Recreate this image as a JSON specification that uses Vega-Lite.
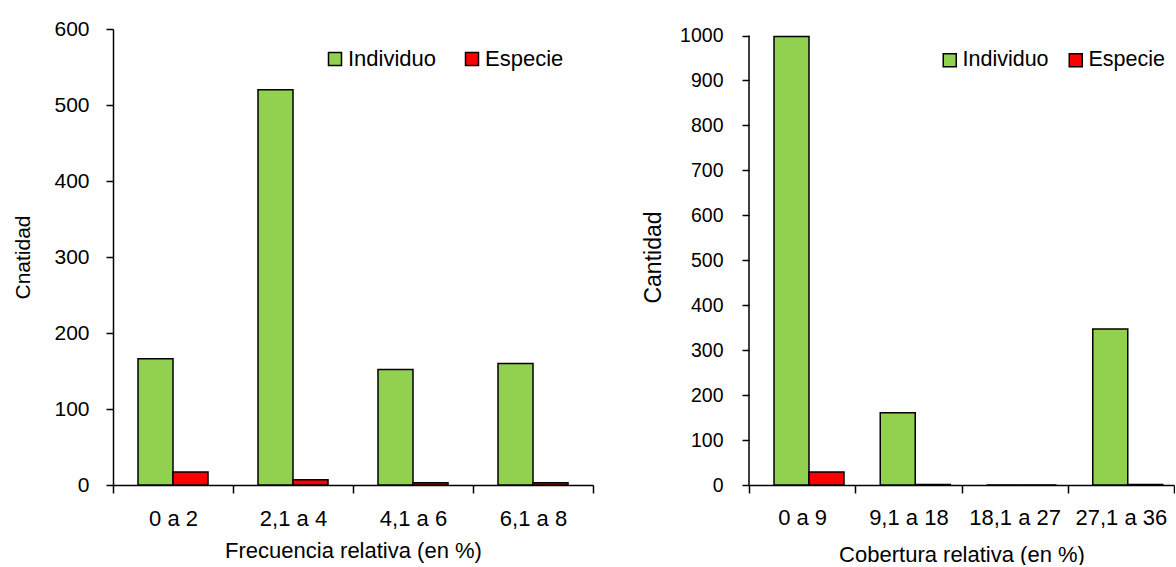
{
  "$schema": "https://vega.github.io/schema/vega-lite/v6.json",
  "background": "white",
  "padding": {"left": 12, "top": 18, "right": 0, "bottom": 0},
  "spacing": 48,
  "config": {
    "font": "Liberation Sans",
    "view": {"stroke": null},
    "axis": {
      "domainColor": "black", "domainWidth": 1.5, "tickColor": "black", "tickWidth": 1.5, "tickSize": 7,
      "labelFont": "Liberation Sans", "labelFontSize": 22, "labelColor": "black",
      "titleFont": "Liberation Sans", "titleFontSize": 22, "titleColor": "black", "titleFontWeight": "normal",
      "grid": false
    },
    "legend": {
      "labelFont": "Liberation Sans", "labelFontSize": 22, "labelColor": "black",
      "symbolType": "square", "symbolSize": 169, "symbolStrokeColor": "black", "symbolStrokeWidth": 1.5,
      "symbolOpacity": 1, "labelOffset": 2
    }
  },
  "resolve": {"scale": {"color": "independent"}, "legend": {"color": "independent"}},
  "hconcat": [
    {
      "width": 480, "height": 456,
      "data": {"values": [
        {"categoria": "0 a 2", "serie": "Individuo", "valor": 166},
        {"categoria": "0 a 2", "serie": "Especie", "valor": 17},
        {"categoria": "2,1 a 4", "serie": "Individuo", "valor": 520},
        {"categoria": "2,1 a 4", "serie": "Especie", "valor": 7},
        {"categoria": "4,1 a 6", "serie": "Individuo", "valor": 152},
        {"categoria": "4,1 a 6", "serie": "Especie", "valor": 3},
        {"categoria": "6,1 a 8", "serie": "Individuo", "valor": 160},
        {"categoria": "6,1 a 8", "serie": "Especie", "valor": 3}
      ]},
      "mark": {"type": "bar", "stroke": "black", "strokeWidth": 1.5},
      "encoding": {
        "x": {"field": "categoria", "type": "nominal", "sort": null,
              "scale": {"paddingInner": 0, "paddingOuter": 0},
              "axis": {"title": "Frecuencia relativa (en %)", "labelAngle": 0, "tickBand": "extent", "tickSize": 8, "labelPadding": 15, "titlePadding": 11}},
        "xOffset": {"field": "serie", "type": "nominal", "sort": ["Individuo", "Especie"],
                    "scale": {"paddingInner": 0, "paddingOuter": 0.714}},
        "y": {"field": "valor", "type": "quantitative", "scale": {"domain": [0, 600]},
              "axis": {"title": "Cnatidad", "titleFontSize": 21, "labelFontSize": 21, "values": [0, 100, 200, 300, 400, 500, 600], "labelPadding": 17, "titlePadding": 20}},
        "color": {"field": "serie", "type": "nominal",
                  "scale": {"domain": ["Individuo", "Especie"], "range": ["#92D050", "#FF0000"]},
                  "legend": {"title": null, "orient": "none", "direction": "horizontal", "legendX": 211, "legendY": 19, "columnPadding": 24}}
      }
    },
    {
      "width": 425, "height": 456,
      "data": {"values": [
        {"categoria": "0 a 9", "serie": "Individuo", "valor": 998},
        {"categoria": "0 a 9", "serie": "Especie", "valor": 29},
        {"categoria": "9,1 a 18", "serie": "Individuo", "valor": 161},
        {"categoria": "9,1 a 18", "serie": "Especie", "valor": 1},
        {"categoria": "18,1 a 27", "serie": "Individuo", "valor": 0},
        {"categoria": "18,1 a 27", "serie": "Especie", "valor": 0},
        {"categoria": "27,1 a 36", "serie": "Individuo", "valor": 347},
        {"categoria": "27,1 a 36", "serie": "Especie", "valor": 1}
      ]},
      "layer": [
        {
          "mark": {"type": "bar", "stroke": "black", "strokeWidth": 1.5},
          "encoding": {
            "x": {"field": "categoria", "type": "nominal", "sort": null,
                  "scale": {"paddingInner": 0, "paddingOuter": 0},
                  "axis": {"title": "Cobertura relativa (en %)", "labelAngle": 0, "tickBand": "extent", "tickSize": 8, "labelPadding": 14, "titlePadding": 16}},
            "xOffset": {"field": "serie", "type": "nominal", "sort": ["Individuo", "Especie"],
                        "scale": {"paddingInner": 0, "paddingOuter": 0.775}},
            "y": {"field": "valor", "type": "quantitative", "scale": {"domain": [0, 1014.5], "nice": false},
                  "axis": {"title": "Cantidad", "titleFontSize": 23, "labelFontSize": 19.5, "format": "d", "domain": false, "values": [0, 100, 200, 300, 400, 500, 600, 700, 800, 900, 1000], "labelPadding": 19, "titlePadding": 14}},
            "color": {"field": "serie", "type": "nominal",
                      "scale": {"domain": ["Individuo", "Especie"], "range": ["#92D050", "#FF0000"]},
                      "legend": {"title": null, "orient": "none", "direction": "horizontal", "legendX": 190, "legendY": 20, "columnPadding": 16, "labelFontSize": 21.5}}
          }
        },
        {
          "data": {"values": [{"inicio": 0, "fin": 1000}]},
          "mark": {"type": "rule", "color": "black", "strokeWidth": 1.5},
          "encoding": {
            "x": {"value": 0},
            "y": {"field": "inicio", "type": "quantitative"},
            "y2": {"field": "fin"}
          }
        }
      ]
    }
  ]
}
